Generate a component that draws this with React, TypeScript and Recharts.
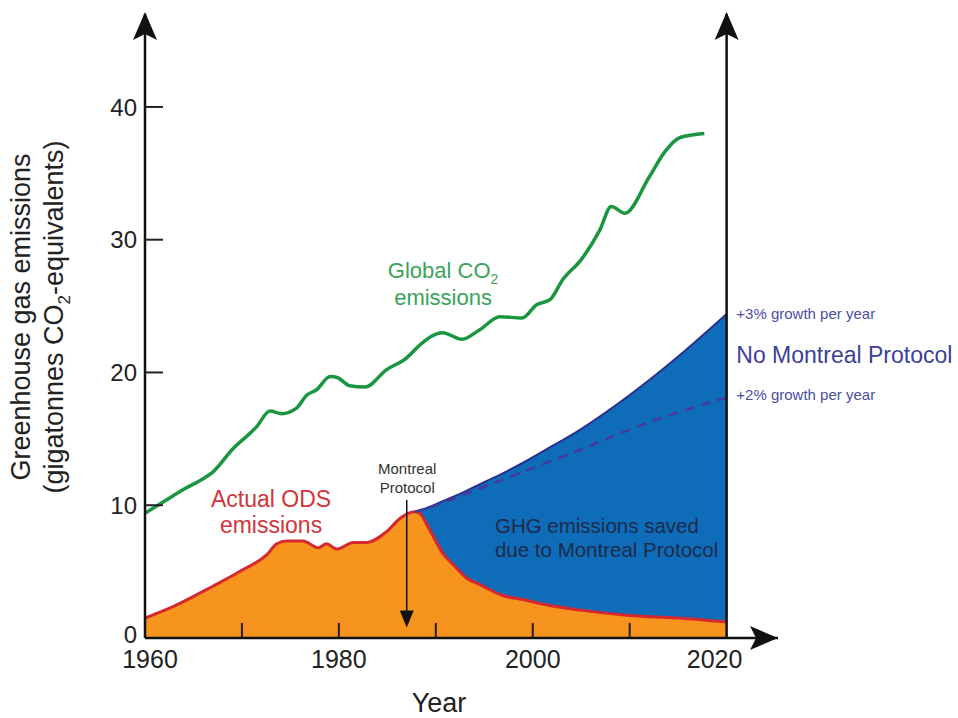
import {
  ComposedChart,
  Area,
  Line,
  XAxis,
  YAxis,
  ReferenceLine,
  ReferenceDot,
} from "recharts";

const FONT = "'Liberation Sans', Arial, Helvetica, sans-serif";

// global CO2 emissions (GtCO2-eq)
const co2Years = [
  1960, 1962, 1964, 1966, 1967, 1969, 1971.5, 1972.9, 1974.1, 1975.6, 1976.7,
  1977.7, 1979.1, 1979.9, 1981.1, 1982.7, 1984.9, 1987, 1988.4, 1990.7, 1992.7,
  1994.5, 1996.6, 1998.9, 2000.4, 2001.8, 2003.1, 2005, 2006.9, 2008.1, 2009.5,
  2012, 2013.6, 2015.2, 2017.7,
];
const co2Values = [
  9.4, 10.3, 11.2, 12.0, 12.5, 14.2, 15.9, 17.1, 16.9, 17.3, 18.3, 18.7, 19.7,
  19.6, 19.0, 18.9, 20.2, 21.1, 22.1, 23.0, 22.5, 23.2, 24.2, 24.1, 25.1, 25.5,
  27.0, 28.5, 30.7, 32.5, 32.0, 34.7, 36.6, 37.7, 38.0,
];

// actual ODS emissions
const odsYears = [
  1960, 1963, 1967, 1970, 1972.6, 1973.6, 1974.6, 1976.3, 1977.9, 1978.7,
  1979.8, 1981.5, 1982.9, 1984.9, 1986.3, 1987.8, 1988.3, 1989.4, 1990.7,
  1991.7, 1993.2, 1994.6, 1996.9, 1999, 2001.4, 2004.9, 2010, 2015, 2020,
];
const odsValues = [
  1.5, 2.4, 3.9, 5.1, 6.3, 7.1, 7.3, 7.3, 6.8, 7.1, 6.7, 7.2, 7.2, 8.0, 9.0,
  9.5, 9.4, 8.1, 6.4, 5.6, 4.5, 4.0, 3.2, 2.9, 2.5, 2.1, 1.7, 1.5, 1.2,
];

// no Montreal Protocol, +3% per year (read at the ODS years after the peak)
const noMp3Years = [
  1987.8, 1988.3, 1989.4, 1990.7, 1991.7, 1993.2, 1994.6, 1996.9, 1999, 2001.4,
  2004.9, 2010, 2015, 2020,
];
const noMp3Values = [
  9.5, 9.6, 9.9, 10.3, 10.6, 11.1, 11.6, 12.4, 13.2, 14.2, 15.7, 18.3, 21.2,
  24.4,
];

// no Montreal Protocol, +2% per year
const noMp2Years = [1987.8, 1990, 1995, 2000, 2005, 2010, 2015, 2020];
const noMp2Values = [9.5, 10.0, 11.4, 12.8, 14.2, 15.7, 17.0, 18.1];

const xTicks = [1960, 1970, 1980, 1990, 2000, 2010, 2020];
const xLabels = [1960, 1980, 2000, 2020];
const yTicks = [0, 10, 20, 30, 40];

const co2Data = co2Years.map((year, i) => ({ year, co2: co2Values[i] }));
const odsData = odsYears.map((year, i) => ({ year, ods: odsValues[i] }));
const savedData = noMp3Years.map((year, i) => ({
  year,
  band: [odsValues[odsYears.indexOf(year)], noMp3Values[i]],
}));
const slowData = noMp2Years.map((year, i) => ({ year, slow: noMp2Values[i] }));

const XTick = (props: any) => {
  const { x, y, payload } = props;
  const v = payload.value;
  const dx = v === 1960 ? 5 : v === 2020 ? -12 : 0;
  return (
    <g>
      {v > 1960 && v < 2020 && (
        <line x1={x} x2={x} y1={y} y2={y - 15} stroke="#222" strokeWidth={2} />
      )}
      {xLabels.includes(v) && (
        <text x={x + dx} y={y + 30} textAnchor="middle" fontSize={25} fill="#222" fontFamily={FONT}>
          {v}
        </text>
      )}
    </g>
  );
};

const YTick = (props: any) => {
  const { x, y, payload } = props;
  const v = payload.value;
  return (
    <g>
      {v > 0 && <line x1={x} x2={x + 18} y1={y} y2={y} stroke="#222" strokeWidth={2} />}
      <text x={x - 8} y={y + (v === 0 ? -4 : 0)} dy="0.36em" textAnchor="end" fontSize={24} fill="#222" fontFamily={FONT}>
        {v}
      </text>
    </g>
  );
};

const YTitle = () => (
  <g fontFamily={FONT} fontSize={27} fill="#222" textAnchor="middle">
    <text transform="translate(30,317) rotate(-90)">Greenhouse gas emissions</text>
    <text transform="translate(63,317) rotate(-90)">
      (gigatonnes CO
      <tspan dy={7} fontSize={17}>2</tspan>
      <tspan dy={-7}>-equivalents)</tspan>
    </text>
  </g>
);

const XTitle = () => (
  <text x={439} y={712} textAnchor="middle" fontSize={27} fill="#222" fontFamily={FONT}>
    Year
  </text>
);

const arrowUp = (p: any) => (
  <path d={`M${p.cx},${p.cy - 2} L${p.cx + 12},${p.cy + 26} L${p.cx},${p.cy + 20} L${p.cx - 12},${p.cy + 26} Z`} fill="#111" />
);
const arrowRight = (p: any) => (
  <path d={`M${p.cx},${p.cy} L${p.cx - 28},${p.cy - 12} L${p.cx - 22},${p.cy} L${p.cx - 28},${p.cy + 12} Z`} fill="#111" />
);
const arrowDown = (p: any) => (
  <path d={`M${p.cx},${p.cy} L${p.cx - 7},${p.cy - 17} L${p.cx + 7},${p.cy - 17} Z`} fill="#111" />
);

const note = (lines: any[], size: number, color: string, lineGap: number, anchor = "middle") => (p: any) => (
  <text x={p.cx} y={p.cy} fontSize={size} fill={color} textAnchor={anchor} fontFamily={FONT}>
    {lines.map((l, i) => (
      <tspan key={i} x={p.cx} dy={i === 0 ? 0 : lineGap}>
        {l}
      </tspan>
    ))}
  </text>
);

const co2Note = (p: any) => (
  <text x={p.cx} y={p.cy} fontSize={22} fill="#3aa35a" textAnchor="middle" fontFamily={FONT}>
    <tspan>Global CO</tspan>
    <tspan dy={6} fontSize={14}>2</tspan>
    <tspan x={p.cx} dy={21}>emissions</tspan>
  </text>
);

export default function App() {
  return (
    <div style={{ position: "absolute", left: 0, top: 0, width: 958, height: 718, background: "#fff" }}>
      <ComposedChart width={958} height={718} margin={{ top: 14, right: 180, bottom: 0, left: 0 }}>
        <XAxis
          dataKey="year"
          type="number"
          domain={[1960, 2025.3]}
          ticks={xTicks}
          allowDataOverflow
          height={80}
          tickSize={0}
          tickMargin={0}
          tickLine={false}
          tick={<XTick />}
          axisLine={{ stroke: "#111", strokeWidth: 2.5 }}
          label={<XTitle />}
        />
        <YAxis
          type="number"
          domain={[0, 47]}
          ticks={yTicks}
          allowDataOverflow
          width={145}
          tickSize={0}
          tickMargin={0}
          tickLine={false}
          tick={<YTick />}
          axisLine={{ stroke: "#111", strokeWidth: 2.5 }}
          label={<YTitle />}
        />
        <Area
          data={savedData}
          dataKey="band"
          type="monotone"
          fill="#0e6cb9"
          fillOpacity={1}
          stroke="#2b2f8f"
          strokeWidth={2}
          isAnimationActive={false}
        />
        <Area
          data={odsData}
          dataKey="ods"
          type="monotone"
          fill="#f7941e"
          fillOpacity={1}
          stroke="#d7282f"
          strokeWidth={3}
          isAnimationActive={false}
        />
        <Line
          data={slowData}
          dataKey="slow"
          type="monotone"
          stroke="#47399a"
          strokeWidth={2.5}
          strokeDasharray="10 7"
          dot={false}
          isAnimationActive={false}
        />
        <Line
          data={co2Data}
          dataKey="co2"
          type="monotone"
          stroke="#1a9641"
          strokeWidth={3.5}
          dot={false}
          isAnimationActive={false}
        />
        <ReferenceLine x={2020} stroke="#111" strokeWidth={2.5} />
        <ReferenceLine
          segment={[
            { x: 1987, y: 10.4 },
            { x: 1987, y: 1.5 },
          ]}
          stroke="#111"
          strokeWidth={1.5}
        />
        <ReferenceDot x={1987} y={0.8} r={1} shape={arrowDown} ifOverflow="visible" />
        <ReferenceDot x={1960} y={47} r={1} shape={arrowUp} ifOverflow="visible" />
        <ReferenceDot x={2020} y={47} r={1} shape={arrowUp} ifOverflow="visible" />
        <ReferenceDot x={2025.3} y={0} r={1} shape={arrowRight} ifOverflow="visible" />

        <ReferenceDot x={1990.75} y={27.1} r={1} shape={co2Note} ifOverflow="visible" />
        <ReferenceDot
          x={1973}
          y={9.86}
          r={1}
          shape={note(["Actual ODS", "emissions"], 23, "#d2343c", 26)}
          ifOverflow="visible"
        />
        <ReferenceDot
          x={1987.05}
          y={12.35}
          r={1}
          shape={note(["Montreal", "Protocol"], 15, "#333", 19)}
          ifOverflow="visible"
        />
        <ReferenceDot
          x={1996.1}
          y={7.9}
          r={1}
          shape={note(["GHG emissions saved", "due to Montreal Protocol"], 20.5, "#1c2b4a", 24, "start")}
          ifOverflow="visible"
        />
        <ReferenceDot
          x={2021}
          y={24}
          r={1}
          shape={note(["+3% growth per year"], 15, "#4b4ea3", 0, "start")}
          ifOverflow="visible"
        />
        <ReferenceDot
          x={2021}
          y={20.7}
          r={1}
          shape={note(["No Montreal Protocol"], 23, "#3c3f99", 0, "start")}
          ifOverflow="visible"
        />
        <ReferenceDot
          x={2021}
          y={17.9}
          r={1}
          shape={note(["+2% growth per year"], 15, "#4b4ea3", 0, "start")}
          ifOverflow="visible"
        />
      </ComposedChart>
    </div>
  );
}
